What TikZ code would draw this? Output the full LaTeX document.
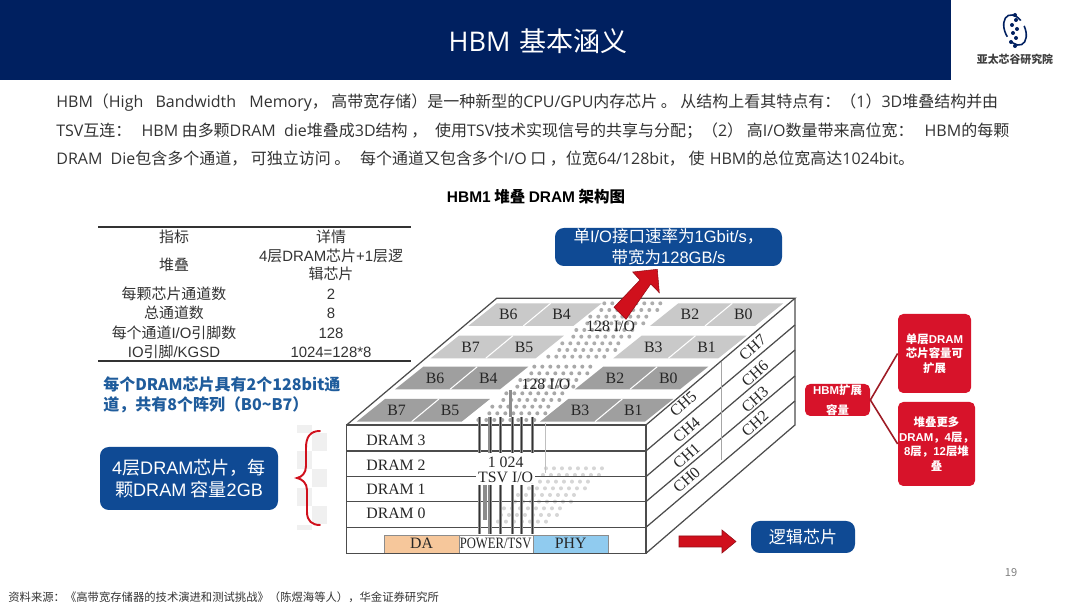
\documentclass[tikz,border=0pt]{standalone}
\usepackage{fontspec}
\usepackage{graphicx}
\setmainfont{Noto Sans CJK SC}
\newfontfamily\dieface{Liberation Serif}
\newfontfamily\bodylatin{Open Sans}
\newfontfamily\figlatin{Liberation Sans}
\newcommand{\en}[1]{{\bodylatin #1}}
\newcommand{\ar}[1]{{\figlatin #1}}
\definecolor{banner}{HTML}{002060}
\definecolor{bodytext}{HTML}{333333}
\definecolor{calloutblue}{HTML}{0F4A94}
\definecolor{noteblue}{HTML}{1F5C9C}
\definecolor{hbmred}{HTML}{D7132A}
\definecolor{linkred}{HTML}{9E1B25}
\definecolor{arrowred}{HTML}{D0101C}
\definecolor{banklight}{HTML}{C9C9C9}
\definecolor{bankdark}{HTML}{9F9F9F}
\definecolor{dapad}{HTML}{F6C79B}
\definecolor{phypad}{HTML}{90CBEF}
\tikzset{
  bodyline/.style={anchor=west,inner sep=0pt,text=bodytext,font=\fontsize{9.1}{11}\selectfont},
  tablecell/.style={inner sep=0pt,text=bodytext,align=center,font=\fontsize{8.5}{10.2}\selectfont},
  noteline/.style={anchor=west,inner sep=0pt,text=noteblue,font=\fontsize{9.1}{11}\bfseries\selectfont},
  bluebox/.style={fill=calloutblue,rounded corners=5pt,text=white,align=center,inner sep=0pt},
  redbox/.style={fill=hbmred,rounded corners=3pt,text=white,align=center,inner sep=0pt,font=\fontsize{6.5}{8.3}\bfseries\selectfont},
  dielabel/.style={inner sep=0pt,text=black!85,font=\fontsize{9}{11}\dieface\selectfont},
  chlabel/.style={dielabel,rotate=42},
  stackline/.style={draw=black!70,line width=0.7pt},
  tsvline/.style={draw=black!45,line width=1.8pt},
  tsvcore/.style={draw=black!80,line width=0.5pt},
  redarrow/.style={fill=arrowred,draw=arrowred!70!black,line width=0.3pt},
}
\newcommand{\tsvband}[3]{%
  \foreach \row in {0,...,8}
    \foreach \col in {0,...,7}
      \fill[#3] ({#1+\col*24+\row*21+mod(\row,2)*12},{#2-\row*20}) circle (6);
}
\begin{document}
\begin{tikzpicture}[x=0.02cm,y=-0.02cm]
  \useasboundingbox (0,0) rectangle (1080,607);
  \fill[white] (0,0) rectangle (1080,607);
  \fill[banner] (0,0) rectangle (951,80);
  \node[text=white,inner sep=0pt,font=\fontsize{15.4}{18}\selectfont] (title) at (538,41) {\en{HBM}\hspace{1.5pt} 基本涵义};
  \draw[banner,line width=0.9pt,rotate around={25:(1015,30)}] (1015,30) ellipse (10 and 16);
  \fill[white,rotate around={25:(1015,30)}] (1008,24) rectangle (1030,30);
  \fill[white,rotate around={25:(1015,30)}] (1000,33) rectangle (1010,38);
  \foreach \dy/\dx in {-15/0,-10/1,-5/-3,-1/2,3/-2,8/1,12/-4,16/0}
    \fill[banner] (1015+\dx,30+\dy) circle (2);
  \node[inner sep=0pt,text=black!75,font=\fontsize{6.2}{8}\bfseries\selectfont] (logotext) at (1015,59) {亚太芯谷研究院};

  \node[bodyline] (line1) at (56,103) {\en{HBM}（\en{High\ \ \hspace{2.2pt}Bandwidth\ \ \hspace{2.8pt}Memory}，\ 高带宽存储）是一种新型的\en{CPU/GPU}内存芯片\ 。\ 从结构上看其特点有：（\en{1}）\en{3D}堆叠结构并由};
  \node[bodyline] (line2) at (56,131) {\en{TSV}互连：\ \ \hspace{1.7pt}\en{HBM}\ 由多颗\en{DRAM\ \ die}堆叠成\en{3D}结构\ ，\hspace{4.5pt}使用\en{TSV}技术实现信号的共享与分配；（\en{2}）\ 高\en{I/O}数量带来高位宽：\ \ \hspace{2.3pt}\en{HBM}的每颗};
  \node[bodyline] (line3) at (56,159) {\en{DRAM\ \ Die}包含多个通道，\ 可独立访问\ 。\hspace{5.5pt}每个通道又包含多个\en{I/O}\ 口\ ，位宽\en{64/128bit}，\ 使\ \hspace{1pt}\en{HBM}的总位宽高达\en{1024bit}。};
  \node[inner sep=0pt,text=black,font=\fontsize{8.8}{10}\bfseries\selectfont] (heading) at (536,197) {\ar{HBM1} 堆叠 \ar{DRAM} 架构图};

  \draw[black!80,line width=0.6pt] (98,227) -- (411,227);
  \draw[black!80,line width=0.6pt] (98,361) -- (411,361);
  \node[tablecell] (head1) at (174,237) {指标};
  \node[tablecell] (head2) at (331,237) {详情};
  \node[tablecell] (stack1) at (174,265) {堆叠};
  \node[tablecell] (stack2) at (331,265) {\ar{4}层\ar{DRAM}芯片\ar{+1}层逻\\辑芯片};
  \node[tablecell] (chan1) at (174,294) {每颗芯片通道数};
  \node[tablecell] (chan2) at (331,294) {\ar{2}};
  \node[tablecell] (total1) at (174,313) {总通道数};
  \node[tablecell] (total2) at (331,313) {\ar{8}};
  \node[tablecell] (pins1) at (174,333) {每个通道\ar{I/O}引脚数};
  \node[tablecell] (pins2) at (331,333) {\ar{128}};
  \node[tablecell] (kgsd1) at (174,352) {\ar{IO}引脚\ar{/KGSD}};
  \node[tablecell] (kgsd2) at (331,352) {\ar{1024=128*8}};

  \node[noteline] (note1) at (103,384) {每个DRAM芯片具有2个128bit通};
  \node[noteline] (note2) at (103,405) {道，共有8个阵列（B0\textasciitilde B7）};

  \node[bluebox,minimum width=178*0.02cm,minimum height=63*0.02cm,font=\fontsize{10.3}{12.6}\selectfont] (dramnote) at (189,478.5) {\ar{4}层\ar{DRAM}芯片，每\\颗\ar{DRAM} 容量\ar{2GB}};
  \foreach \top/\left in {425/297,433/312,451/297,469/312,488/297,506/312,525/297}
    \fill[black!6] (\left,\top) rectangle ++(15,{\top==425 ? 8 : (\top==525 ? 5 : 18)});
  \draw[arrowred,line width=1.1pt,line cap=round] (320,431) .. controls (310,431) and (306,437) .. (306,448)
    -- (306,466) .. controls (306,473) and (302,477) .. (297,478)
    .. controls (302,479) and (307,483) .. (307,490) -- (307,512) .. controls (307,521) and (312,525) .. (320,525);

  \node[bluebox,minimum width=227*0.02cm,minimum height=38*0.02cm,font=\fontsize{9.4}{11.8}\selectfont] (iorate) at (668.5,247) {单\ar{I/O}接口速率为\ar{1Gbit/s}，\\带宽为\ar{128GB/s}};

  \begin{scope}[shift={(340,290)},scale=0.3333]
    \tsvband{625}{200}{black!32}
    \tsvband{415}{390}{black!34}
    \foreach \x/\y/\c/\a/\b in {385/108/banklight/B6/B4,930/108/banklight/B2/B0,272/205/banklight/B7/B5,820/205/banklight/B3/B1,165/298/bankdark/B6/B4,705/298/bankdark/B2/B0,50/395/bankdark/B7/B5,600/395/bankdark/B3/B1}{
      \fill[\c] (\x,\y) -- ++(85,-68) -- ++(315,0) -- ++(-85,68) -- cycle;
      \draw[white,line width=0.6pt] ({\x+165},\y) -- ++(82,-68);
      \node[dielabel] at ({\x+120},{\y-34}) {\a};
      \node[dielabel] at ({\x+280},{\y-34}) {\b};
    }
    \tsvband{450}{695}{black!16}
    \node[dielabel] (io1) at (812,110) {128 I/O};
    \node[dielabel] (io2) at (618,283) {128 I/O};
    \draw[stackline] (20,405) -- (470,25) -- (1365,25) -- (918,405);
    \draw[stackline] (20,405) rectangle (918,790);
    \draw[stackline] (1365,25) -- (1365,405) -- (918,790);
    \foreach \y/\r in {483/105,560/180,635/258,712/333}{
      \draw[stackline] (20,\y) -- (918,\y);
      \draw[stackline] (918,\y) -- (1365,\r);
    }
    \draw[black!35,line width=0.4pt] (1145,215) -- (1145,510);
    \draw[black!25,line width=0.5pt] (615,400) -- (615,550);
    \foreach \x in {418,450,482,517,545,577}{
      \draw[tsvline] (\x,380) -- (\x,490);
      \draw[tsvline] (\x,585) -- (\x,732);
      \draw[tsvcore] (\x,380) -- (\x,490);
      \draw[tsvcore] (\x,585) -- (\x,732);
    }
    \draw[tsvline] (512,300) -- (512,380);
    \draw[tsvline] (435,585) -- (435,690);
    \node[dielabel,fill=white,inner xsep=1pt] (tsv1) at (497,516) {1 024};
    \node[dielabel,fill=white,inner xsep=1pt] (tsv2) at (497,562) {TSV I/O};
    \node[dielabel] (dram3) at (168,450) {DRAM 3};
    \node[dielabel] (dram2) at (168,526) {DRAM 2};
    \node[dielabel] (dram1) at (168,598) {DRAM 1};
    \node[dielabel] (dram0) at (168,671) {DRAM 0};
    \node[chlabel] (ch7) at (1238,172) {CH7};
    \node[chlabel] (ch6) at (1245,250) {CH6};
    \node[chlabel] (ch3) at (1245,328) {CH3};
    \node[chlabel] (ch2) at (1245,400) {CH2};
    \node[chlabel] (ch5) at (1030,342) {CH5};
    \node[chlabel] (ch4) at (1040,420) {CH4};
    \node[chlabel] (ch1) at (1040,498) {CH1};
    \node[chlabel] (ch0) at (1040,570) {CH0};
    \filldraw[fill=dapad,draw=black!45,line width=0.4pt] (133,735) rectangle (357,790);
    \filldraw[fill=white,draw=black!45,line width=0.4pt] (357,735) rectangle (580,790);
    \filldraw[fill=phypad,draw=black!45,line width=0.4pt] (580,735) rectangle (805,790);
    \node[dielabel] (da) at (245,760) {DA};
    \node[dielabel] (power) at (467,760) {\scalebox{0.8}[1]{POWER/TSV}};
    \node[dielabel] (phy) at (692,760) {PHY};
    \draw[stackline] (20,790) -- (918,790);
  \end{scope}

  \filldraw[redarrow] (614,307.3) -- (640,280) -- (632.7,272) -- (657.3,269.3) -- (659.3,292.7) -- (650.7,284) -- (626,319.3) -- cycle;
  \filldraw[redarrow] (679,536) -- (722,536) -- (722,530) -- (736,541.5) -- (722,553) -- (722,547) -- (679,547) -- cycle;
  \node[bluebox,minimum width=104*0.02cm,minimum height=32*0.02cm,font=\fontsize{9.7}{12}\selectfont] (logicdie) at (803,537) {逻辑芯片};

  \node[redbox,minimum width=65*0.02cm,minimum height=32*0.02cm,font=\fontsize{6.5}{11.4}\bfseries\selectfont] (expand) at (837.5,400) {\ar{HBM}扩展\\容量};
  \node[redbox,minimum width=73*0.02cm,minimum height=79*0.02cm] (capacity) at (934.5,353.5) {单层\ar{DRAM}\\芯片容量可\\扩展};
  \node[redbox,minimum width=77*0.02cm,minimum height=84*0.02cm] (morelayers) at (936.5,444) {堆叠更多\\\ar{DRAM}，\ar{4}层，\\\ar{8}层，\ar{12}层堆\\叠};
  \draw[linkred,line width=0.9pt] (expand.east) -- (capacity.west);
  \draw[linkred,line width=0.9pt] (expand.east) -- (morelayers.west);

  \node[inner sep=0pt,text=black!50,font=\fontsize{6.3}{8}\selectfont] (pageno) at (1011,573) {19};
  \node[anchor=west,inner sep=0pt,text=bodytext,font=\fontsize{6.45}{8}\selectfont] (source) at (8,597) {资料来源：《高带宽存储器的技术演进和测试挑战》（陈煜海等人），华金证券研究所};
\end{tikzpicture}
\end{document}
